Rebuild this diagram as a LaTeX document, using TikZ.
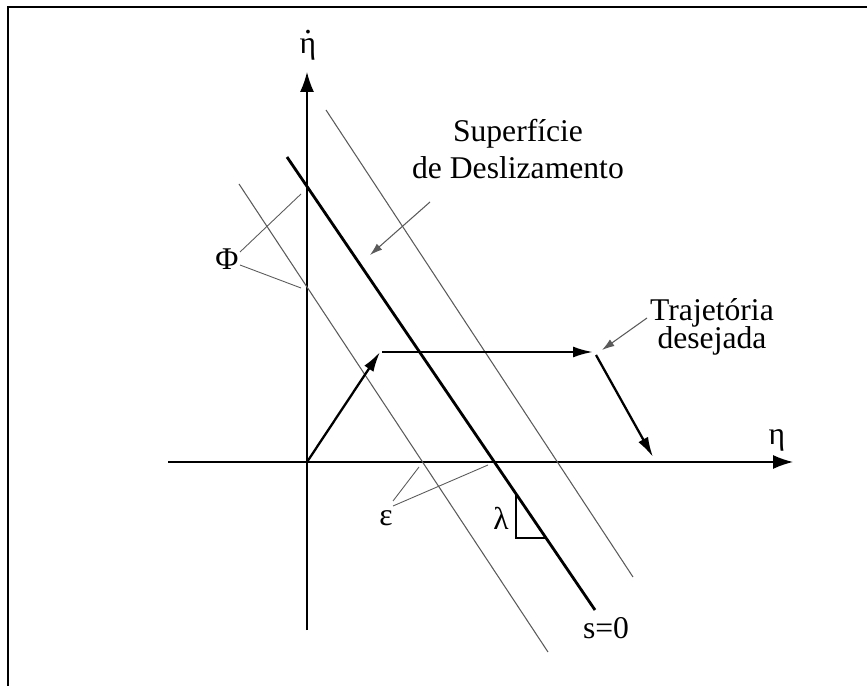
\documentclass[tikz,border=0pt]{standalone}
\usepackage{fontspec}
\setmainfont{Liberation Serif}
\usepackage{tikz}
\usetikzlibrary{arrows.meta, positioning, calc}
\definecolor{ThinGray}{RGB}{90,90,90}
\newcommand{\dotabove}[1]{\ooalign{#1\cr\hidewidth\raisebox{0.62em}{.}\hidewidth\cr}}

\begin{document}
\begin{tikzpicture}[
  x=0.02cm, y=-0.02cm,
  lbl/.style={inner sep=1pt, font=\fontsize{18}{21}\selectfont, align=center},
  axis/.style={line width=0.8pt, -{Latex[length=0.4cm, width=0.28cm]}},
  surf/.style={line width=1.6pt},
  band/.style={line width=0.6pt, ThinGray},
  ptr/.style={line width=0.5pt, ThinGray},
  ptrarr/.style={line width=0.6pt, ThinGray, -{Latex[length=0.25cm, width=0.16cm]}},
  traj/.style={line width=1.3pt, -{Latex[length=0.4cm, width=0.22cm]}},
]
\useasboundingbox (0,0) rectangle (867,686);
\draw[line width=1.1pt] (867,7) -- (8,7) -- (8,686);

% axes
\coordinate (orig) at (307,462);
\coordinate (xl) at (168,462);
\coordinate (xr) at (793,462);
\coordinate (yb) at (307,630);
\coordinate (yt) at (307,72);
\draw[axis] (xl) -- (xr);
\draw[axis] (yb) -- (yt);
\node[lbl] (etadot) at (308,46) {\dotabove{η}};
\node[lbl] (eta) at (777,440) {η};

% sliding surface and boundary layer
\coordinate (s1) at (287,157);
\coordinate (s2) at (595,610);
\coordinate (bl1) at (239,184);
\coordinate (bl2) at (548,652);
\coordinate (br1) at (326,110);
\coordinate (br2) at (633,577);
\draw[surf] (s1) -- (s2);
\draw[band] (bl1) -- (bl2);
\draw[band] (br1) -- (br2);
\node[lbl] (s0) at (606,628) {s=0};

% slope mark
\coordinate (lt) at (516,495);
\coordinate (lc) at (516,538);
\coordinate (lr) at (546,538);
\draw[line width=0.6pt] (lt) -- (lc) -- (lr);
\node[lbl] (lam) at (501,518) {λ};

% labels with pointers
\node[lbl] (phi) at (227,259) {Φ};
\coordinate (phia) at (301,194);
\coordinate (phib) at (301,288);
\draw[ptr] (240,252) -- (phia);
\draw[ptr] (240,265) -- (phib);

\node[lbl] (eps) at (386,518) {ε};
\coordinate (epsa) at (419,467);
\coordinate (epsb) at (488,465);
\draw[ptr] (393,501) -- (epsa);
\draw[ptr] (393,506) -- (epsb);

\node[lbl] (sup) at (518,149) {Superfície\\de Deslizamento};
\coordinate (supt) at (370,255);
\draw[ptrarr] (430,202) -- (supt);

\node[lbl] (trj) at (712,327) {Trajetória\\[-5pt]desejada};
\coordinate (trjs) at (647,318);
\coordinate (trjt) at (602,350);
\draw[ptrarr] (trjs) -- (trjt);

% trajectory
\coordinate (pa) at (380,352);
\coordinate (pb) at (593,352);
\coordinate (pc) at (596,355);
\coordinate (pd) at (653,457);
\draw[traj] (orig) -- (pa);
\draw[traj] (pa) ++(2,0) -- (pb);
\draw[traj] (pc) -- (pd);
\end{tikzpicture}
\end{document}
